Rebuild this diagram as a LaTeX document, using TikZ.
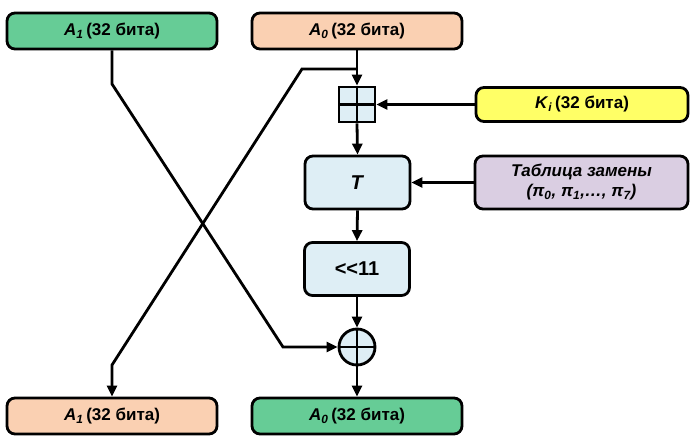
\documentclass[tikz,border=0pt]{standalone}
\usepackage{fontspec}
\setmainfont{Liberation Sans}
\usetikzlibrary{arrows.meta}

\definecolor{regGreen}{RGB}{102,204,150}
\definecolor{regPeach}{RGB}{250,208,178}
\definecolor{opBlue}{RGB}{222,238,245}
\definecolor{keyYellow}{RGB}{255,255,102}
\definecolor{sboxLilac}{RGB}{218,206,226}

\newcommand{\half}[2]{\textit{#1}\textsubscript{\textit{#2}}\,(32 бита)}

\tikzset{
	blk/.style={draw, line width=2.8pt, rounded corners=8pt, font=\bfseries\fontsize{17}{20}\selectfont, inner sep=0pt},
	regbox/.style={blk, minimum width=210pt, minimum height=36pt},
	opbox/.style={blk, fill=opBlue, minimum width=105pt, minimum height=53pt, font=\bfseries\fontsize{20}{24}\selectfont},
	flow/.style={line width=2.8pt, -{Triangle[length=11pt,width=10pt]}},
	wire/.style={line width=2.8pt}
}

\begin{document}
\begin{tikzpicture}[x=1pt,y=-1pt]
\useasboundingbox (0,0) rectangle (698,438);

% input halves
\node[regbox, fill=regGreen] (inA1) at (112,31) {\half{A}{1}};
\node[regbox, fill=regPeach] (inA0) at (357,31) {\half{A}{0}};

% round key adder (mod 2^32)
\node[draw, line width=2.8pt, fill=opBlue, minimum width=36pt, minimum height=35pt, inner sep=0pt,
	path picture={\draw[line width=2.8pt] (path picture bounding box.west) -- (path picture bounding box.east);}]
	(sum) at (357,104.5) {};
\node[regbox, fill=keyYellow, minimum width=212pt, minimum height=34pt] (key) at (582,104.5) {\textit{K}\textsubscript{\textit{i}}\,(32 бита)};

% substitution and shift
\node[opbox] (subst) at (357.5,182.5) {\textit{T}};
\node[blk, fill=sboxLilac, minimum width=213pt, minimum height=53pt, align=center, font=\bfseries\itshape\fontsize{17}{20}\selectfont] (table) at (581.5,182.5) {Таблица замены\\(π\textsubscript{0}, π\textsubscript{1},…, π\textsubscript{7})};
\node[opbox] (shift) at (357,269) {{<}{<}11};

% xor with the other half
\node[draw, circle, line width=2.8pt, fill=opBlue, minimum size=36pt, inner sep=0pt,
	path picture={\draw[line width=2.8pt] (path picture bounding box.west) -- (path picture bounding box.east);}]
	(xor) at (357,347) {};

% output halves
\node[regbox, fill=regPeach] (outA1) at (112,416) {\half{A}{1}};
\node[regbox, fill=regGreen] (outA0) at (357,416) {\half{A}{0}};

\coordinate (split) at (357,69);
\coordinate (bendL) at (112,84);
\coordinate (bendX) at (283,347);
\coordinate (bendR) at (302,69);
\coordinate (bendD) at (112,365);

\draw[flow] (inA0.south) -- (sum.north);
\draw[wire] (sum.north) -- (sum.south);
\draw[flow] (key.west) -- (sum.east);
\draw[flow] (sum.south) -- (subst.north);
\draw[flow] (table.west) -- (subst.east);
\draw[flow] (subst.south) -- (shift.north);
\draw[flow] (shift.south) -- (xor.north);
\draw[wire] (xor.north) -- (xor.south);
\draw[flow] (xor.south) -- (outA0.north);

% crossing of the halves
\draw[flow] (inA1.south) -- (bendL) -- (bendX) -- (xor.west);
\draw[flow] (split) -- (bendR) -- (bendD) -- (outA1.north);
\end{tikzpicture}
\end{document}
